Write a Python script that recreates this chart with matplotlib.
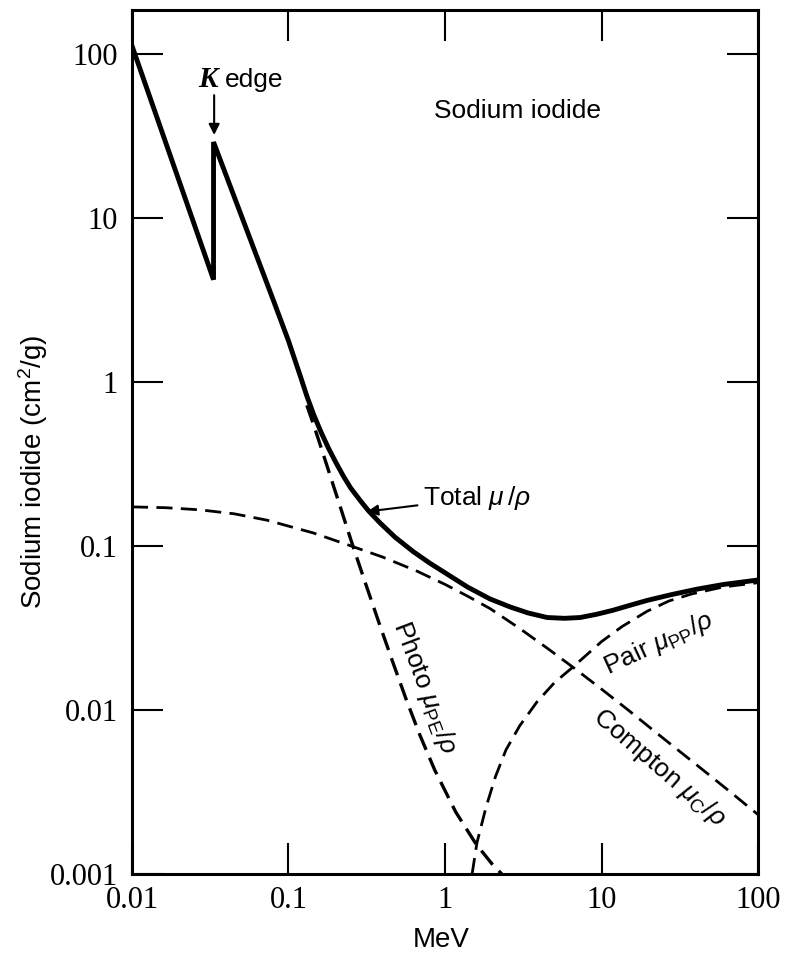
import matplotlib
matplotlib.use("Agg")
import matplotlib.pyplot as plt
from matplotlib.ticker import FixedLocator, FixedFormatter, NullLocator

# Photon energy (MeV) and mass attenuation (cm^2/g) for NaI
total_e = [0.01, 0.0332, 0.0332, 0.08, 0.1, 0.12, 0.131, 0.145, 0.162, 0.18,
           0.2, 0.225, 0.25, 0.29, 0.324, 0.385, 0.48, 0.625, 0.8, 1.08,
           1.4, 1.94, 2.6, 3.4, 4.5, 5.8, 7.3, 9.3, 11.8, 15,
           19.5, 28, 40.7, 60, 100]
total_mu = [112, 4.2, 29, 3.15, 1.78, 1.06, 0.82, 0.63, 0.49, 0.395,
            0.325, 0.265, 0.225, 0.187, 0.164, 0.138, 0.113, 0.0925, 0.0785, 0.0655,
            0.056, 0.0475, 0.0425, 0.0390, 0.0366, 0.0362, 0.0366, 0.0383, 0.0405, 0.0433,
            0.0465, 0.0505, 0.0545, 0.0582, 0.062]

photo_e = [0.131, 0.145, 0.162, 0.192, 0.22, 0.252, 0.3, 0.384, 0.47, 0.565,
           0.69, 0.86, 1.17, 1.58, 2.0, 2.48]
photo_mu = [0.72, 0.545, 0.395, 0.239, 0.160, 0.107, 0.0651, 0.0327, 0.0189, 0.0116,
            0.00705, 0.0043, 0.00239, 0.00152, 0.00115, 0.00093]

compton_e = [0.01, 0.0165, 0.0272, 0.045, 0.073, 0.144, 0.247, 0.4, 0.662, 1.0,
             1.4, 1.94, 3.0, 4.5, 6.58, 10, 15, 22.6, 40, 65, 100]
compton_mu = [0.173, 0.171, 0.166, 0.157, 0.1435, 0.12, 0.1005, 0.0855, 0.0702, 0.0583,
              0.0493, 0.0415, 0.0314, 0.0238, 0.0182, 0.0134, 0.00989, 0.00721, 0.00467, 0.00322, 0.0023]

pair_e = [1.49, 1.6, 1.83, 2.1, 2.45, 3.0, 3.87, 5.0, 6.58, 10,
          13.5, 19.5, 27, 37.8, 60, 100]
pair_mu = [0.001, 0.00155, 0.00256, 0.00392, 0.0057, 0.0080, 0.0112, 0.01466, 0.0183, 0.0261,
           0.0322, 0.0399, 0.0462, 0.0510, 0.0562, 0.0597]

x_ticks = [0.01, 0.1, 1, 10, 100]
x_tick_labels = ["0.01", "0.1", "1", "10", "100"]
y_ticks = [0.001, 0.01, 0.1, 1, 10, 100]
y_tick_labels = ["0.001", "0.01", "0.1", "1", "10", "100"]

plt.rcParams["font.family"] = ["Liberation Sans", "DejaVu Sans"]
plt.rcParams["mathtext.fontset"] = "custom"
plt.rcParams["mathtext.rm"] = "Liberation Sans"
plt.rcParams["mathtext.it"] = "Liberation Sans:italic"
plt.rcParams["mathtext.bf"] = "Liberation Sans:bold"

fig = plt.figure(figsize=(7.94, 9.56), dpi=100)
ax = fig.add_axes([0.1662, 0.0858, 0.7885, 0.9037])
ax.set_xscale("log")
ax.set_yscale("log")
ax.set_xlim(0.01, 100)
ax.set_ylim(0.001, 185)

ax.plot(total_e, total_mu, color="black", lw=3.5, solid_joinstyle="miter")
ax.plot(photo_e, photo_mu, color="black", lw=2.4, dashes=(5.4, 2.6))
ax.plot(compton_e, compton_mu, color="black", lw=2.0, dashes=(5.8, 3.0))
ax.plot(pair_e, pair_mu, color="black", lw=2.0, dashes=(5.8, 3.0))

ax.xaxis.set_major_locator(FixedLocator(x_ticks))
ax.xaxis.set_major_formatter(FixedFormatter(x_tick_labels))
ax.yaxis.set_major_locator(FixedLocator(y_ticks))
ax.yaxis.set_major_formatter(FixedFormatter(y_tick_labels))
ax.xaxis.set_minor_locator(NullLocator())
ax.yaxis.set_minor_locator(NullLocator())
ax.tick_params(which="major", direction="in", length=22, width=1.5,
               top=True, right=True, labelsize=22,
               labelfontfamily="Liberation Serif")
ax.tick_params(axis="x", pad=9)
ax.tick_params(axis="y", pad=10)
for s in ax.spines.values():
    s.set_linewidth(2.2)

ax.set_xlabel("MeV", fontsize=20)
ax.xaxis.set_label_coords(0.494, -0.061)
ax.set_ylabel("Sodium iodide (cm$^2$/g)", fontsize=20)
ax.yaxis.set_label_coords(-0.131, 0.466)

# annotations
ax.text(2.92, 44.9, "Sodium iodide", fontsize=19, ha="center", va="center")
ax.text(0.0355, 63, "K", fontsize=21, ha="right", va="baseline",
        family="Liberation Serif", style="italic", weight="bold")
ax.text(0.0393, 63, "edge", fontsize=19, ha="left", va="baseline")
ax.annotate("", xy=(0.0335, 32), xytext=(0.0335, 56),
            arrowprops=dict(arrowstyle="-|>", color="black", lw=1.5,
                            mutation_scale=16, shrinkA=0, shrinkB=0))
ax.annotate(r"Total $\mu\,/\rho$", xy=(0.318, 0.162), xytext=(0.723, 0.196),
            fontsize=19, ha="left", va="center",
            arrowprops=dict(arrowstyle="-|>", color="black", lw=1.5,
                            mutation_scale=16, shrinkA=2, shrinkB=0))
ax.text(0.745, 0.0138, r"Photo $\mu_{\mathrm{PE}}/\rho$", fontsize=19,
        rotation=-69.4, ha="center", va="center", rotation_mode="anchor")
ax.text(23.3, 0.00442, r"Compton $\mu_{\mathrm{C}}/\rho$", fontsize=19,
        rotation=-40.7, ha="center", va="center", rotation_mode="anchor")
ax.text(23.3, 0.0255, r"Pair $\mu_{\mathrm{PP}}/\rho$", fontsize=19,
        rotation=24.8, ha="center", va="center", rotation_mode="anchor")

fig.savefig("out.png", dpi=100)
